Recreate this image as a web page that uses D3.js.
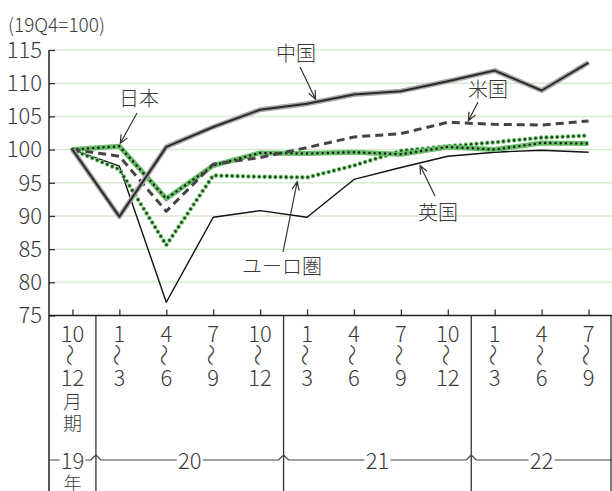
<!DOCTYPE html>
<html>
<head>
<meta charset="utf-8">
<script src="https://cdn.jsdelivr.net/npm/d3@7"></script>
<style>
  html, body { margin: 0; padding: 0; background: #fff; }
  svg { display: block; }
  text { font-family: "Noto Sans CJK JP", "Noto Sans", sans-serif; font-weight: 300; fill: #3a3a3a; }
</style>
</head>
<body>
<svg id="chart" width="612" height="491"></svg>
<script>
// Quarterly real GDP index, 2019 Q4 = 100
const quarters   = ["2019Q4","2020Q1","2020Q2","2020Q3","2020Q4","2021Q1","2021Q2","2021Q3","2021Q4","2022Q1","2022Q2","2022Q3"];
const monthStart = ["10","1","4","7","10","1","4","7","10","1","4","7"];
const monthEnd   = ["12","3","6","9","12","3","6","9","12","3","6","9"];
const years = [
  { label: "19", from: 0, to: 1 },
  { label: "20", from: 1, to: 5 },
  { label: "21", from: 5, to: 9 },
  { label: "22", from: 9, to: 12 }
];
const yTicks = [75, 80, 85, 90, 95, 100, 105, 110, 115];

const china = [100, 89.9, 100.4, 103.4, 106.0, 106.9, 108.3, 108.8, 110.3, 111.9, 108.9, 113.1];
const usa   = [100, 99.0, 90.7, 97.8, 98.8, 100.3, 101.9, 102.4, 104.1, 103.8, 103.7, 104.3];
const japan = [100, 100.5, 92.6, 97.6, 99.5, 99.4, 99.6, 99.3, 100.4, 100.0, 101.0, 100.9];
const euro  = [100, 97.0, 85.6, 96.1, 95.9, 95.8, 97.6, 99.8, 100.5, 101.1, 101.8, 102.1];
const uk    = [100, 97.5, 77.0, 89.8, 90.8, 89.8, 95.5, 97.3, 99.0, 99.6, 99.9, 99.6];

const svg = d3.select("#chart");
const W = 612, H = 491;
const pL = 49, pR = 612, pT = 50, pB = 315.5;

const x = d3.scaleBand().domain(d3.range(quarters.length)).range([pL, pR]).padding(0);
const cx = i => x(i) + x.bandwidth() / 2;
const y = d3.scaleLinear().domain([75, 115]).range([pB, pT]);

// unit caption
svg.append("text").attr("x", 8).attr("y", 32).attr("font-size", 19).text("(19Q4=100)");

// horizontal grid
svg.append("g").selectAll("line").data(yTicks.filter(v => v > 75)).join("line")
  .attr("x1", pL).attr("x2", pR)
  .attr("y1", d => y(d)).attr("y2", d => y(d))
  .attr("stroke", "#d6ebd0").attr("stroke-width", 1.5);

// y axis (ticks inward)
const yAxis = svg.append("g").attr("transform", `translate(${pL},0)`)
  .call(d3.axisRight(y).tickValues(yTicks).tickSize(6).tickFormat(""));
yAxis.select(".domain").remove();
yAxis.selectAll(".tick line").attr("stroke", "#333").attr("stroke-width", 1.3);
svg.append("g").selectAll("text").data(yTicks).join("text")
  .attr("x", pL - 7).attr("y", d => y(d)).attr("dy", "0.36em")
  .attr("text-anchor", "end").attr("font-size", 22).text(d => d);

// x axis ticks (inward)
const xAxis = svg.append("g").attr("transform", `translate(0,${pB})`)
  .call(d3.axisTop(d3.scalePoint().domain(d3.range(quarters.length)).range([cx(0), cx(quarters.length - 1)]))
    .tickSize(6).tickFormat(""));
xAxis.select(".domain").remove();
xAxis.selectAll(".tick line").attr("stroke", "#333").attr("stroke-width", 1.3);

// frame lines: left axis down to the bottom, baseline, year separators
svg.append("line").attr("x1", pL).attr("x2", pL).attr("y1", pT).attr("y2", H)
  .attr("stroke", "#222").attr("stroke-width", 1.5);
svg.append("line").attr("x1", pL).attr("x2", pR).attr("y1", pB).attr("y2", pB)
  .attr("stroke", "#222").attr("stroke-width", 1.5);
const seps = years.map(d => d.to >= quarters.length ? pR - 1 : x(d.to));
svg.append("g").selectAll("line").data(seps).join("line")
  .attr("x1", d => d).attr("x2", d => d).attr("y1", pB).attr("y2", H)
  .attr("stroke", "#333").attr("stroke-width", 1.3);

// month range labels (start month, wave dash, end month); the first column adds 月期
const ml = svg.append("g").attr("font-size", 22).attr("text-anchor", "middle");
quarters.forEach((q, i) => {
  ml.append("text").attr("x", cx(i)).attr("y", 342).text(monthStart[i]);
  ml.append("text").attr("transform", `translate(${cx(i) - 3.5},${355}) rotate(90)`)
    .attr("font-size", 22).attr("dy", "0.3em").text("～");
  const t = ml.append("text").attr("x", cx(i)).attr("y", 386);
  t.append("tspan").text(monthEnd[i]);
  if (i === 0) {
    t.append("tspan").attr("x", cx(i)).attr("dy", 23).attr("font-size", 19).text("月");
    t.append("tspan").attr("x", cx(i)).attr("dy", 22).attr("font-size", 19).text("期");
  }
});

// year brackets
const yl = 460, rise = 5;
years.forEach(d => {
  const x0 = d.from === 0 ? pL : x(d.from);
  const x1 = d.to >= quarters.length ? pR : x(d.to);
  const mid = (x0 + x1) / 2;
  const gap = 13;
  const hasL = d.from !== 0, hasR = d.to < quarters.length;
  const path = d3.path();
  if (hasL) { path.moveTo(x0, yl - rise); path.lineTo(x0 + 5, yl); } else path.moveTo(x0, yl);
  path.lineTo(mid - gap, yl);
  path.moveTo(mid + gap, yl);
  if (hasR) { path.lineTo(x1 - 5, yl); path.lineTo(x1, yl - rise); } else path.lineTo(x1, yl);
  svg.append("path").attr("d", path.toString()).attr("fill", "none").attr("stroke", "#444").attr("stroke-width", 1.2);
  const t = svg.append("text").attr("x", mid).attr("y", yl + 9).attr("text-anchor", "middle").attr("font-size", 22);
  t.append("tspan").text(d.label);
  if (d.from === 0) t.append("tspan").attr("x", mid).attr("dy", 21).attr("font-size", 18).text("年");
});

// series lines
const line = d3.line().x((d, i) => cx(i)).y(d => y(d));
const g = svg.append("g").attr("fill", "none").attr("stroke-linejoin", "round");

// UK: thin black
g.append("path").attr("d", line(uk)).attr("stroke", "#111").attr("stroke-width", 1.4);
// Euro area: green-haloed dots
g.append("path").attr("d", line(euro)).attr("stroke", "#6cc06c").attr("stroke-width", 4.6)
  .attr("stroke-dasharray", "0 5.4").attr("stroke-linecap", "round");
g.append("path").attr("d", line(euro)).attr("stroke", "#1c3f1c").attr("stroke-width", 2.6)
  .attr("stroke-dasharray", "0 5.4").attr("stroke-linecap", "round");
// Japan: green band with black dots
g.append("path").attr("d", line(japan)).attr("stroke", "#66bd66").attr("stroke-width", 5);
g.append("path").attr("d", line(japan)).attr("stroke", "#111").attr("stroke-width", 2.4)
  .attr("stroke-dasharray", "0 5.2").attr("stroke-linecap", "round");
// US: dark dashes
g.append("path").attr("d", line(usa)).attr("stroke", "#444").attr("stroke-width", 3)
  .attr("stroke-dasharray", "8 5");
// China: dark core with grey halo
g.append("path").attr("d", line(china)).attr("stroke", "#a8a8a8").attr("stroke-width", 5);
g.append("path").attr("d", line(china)).attr("stroke", "#2a2a2a").attr("stroke-width", 2);

// annotations: label, arrow tail, arrow tip anchored at a point on the series
function along(series, t) {
  const i = Math.floor(t), f = t - i;
  const v = series[i] + (series[Math.min(i + 1, series.length - 1)] - series[i]) * f;
  return [x(i) + x.bandwidth() / 2 + f * x.bandwidth(), y(v)];
}
const notes = [
  { text: "日本",     series: japan, t: 1.02, tipDy: -4,  tail: [137, 113], lx: 139, ly: 106 },
  { text: "中国",     series: china, t: 5.18, tipDy: -3,  tail: [300, 67],  lx: 296, ly: 61 },
  { text: "米国",     series: usa,   t: 8.44, tipDy: -2.5, tail: [478, 102], lx: 488, ly: 97 },
  { text: "ユーロ圏", series: euro,  t: 4.79, tipDy: 4.5, tail: [283, 252], lx: 282, ly: 274 },
  { text: "英国",     series: uk,    t: 7.41, tipDy: 2.7, tail: [435, 196], lx: 438, ly: 220 }
];
notes.forEach(n => {
  const [tx, ty0] = along(n.series, n.t);
  const ty = ty0 + n.tipDy;
  const [sx, sy] = n.tail;
  const ang = Math.atan2(ty - sy, tx - sx);
  const L = 9, a = 0.42;
  const p = d3.path();
  p.moveTo(sx, sy); p.lineTo(tx, ty);
  p.moveTo(tx - L * Math.cos(ang - a), ty - L * Math.sin(ang - a));
  p.lineTo(tx, ty);
  p.lineTo(tx - L * Math.cos(ang + a), ty - L * Math.sin(ang + a));
  svg.append("path").attr("d", p.toString()).attr("fill", "none")
    .attr("stroke", "#333").attr("stroke-width", 1.2);
  svg.append("text").attr("x", n.lx).attr("y", n.ly).attr("text-anchor", "middle")
    .attr("font-size", 20).text(n.text);
});
</script>
</body>
</html>
